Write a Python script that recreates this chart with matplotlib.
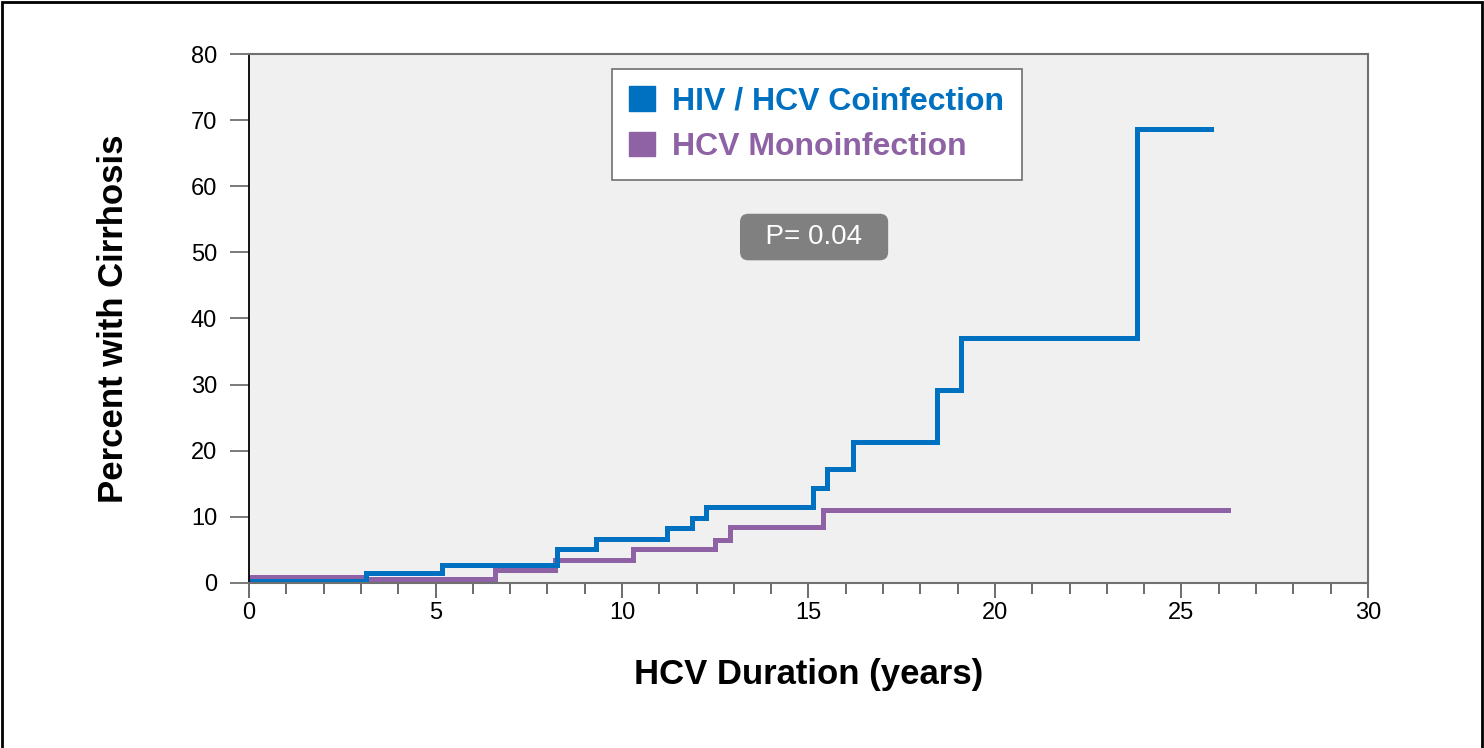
import matplotlib
matplotlib.use('Agg')
import matplotlib.pyplot as plt
from matplotlib.patches import Patch, Rectangle
from matplotlib.ticker import MultipleLocator

plt.rcParams['font.family'] = ['Liberation Sans', 'DejaVu Sans']

# Kaplan-Meier style step data (years, percent)
coinf_years = [0, 3.14, 5.17, 8.26, 9.3, 11.2, 11.87, 12.25, 15.12, 15.5, 16.2, 18.45, 19.1, 23.8, 25.8]
coinf_pct = [0.3, 1.5, 2.7, 5.1, 6.6, 8.3, 9.8, 11.5, 14.4, 17.3, 21.3, 29.2, 37.1, 68.6, 68.6]

mono_years = [0, 3.1, 6.6, 8.2, 10.3, 12.5, 12.9, 15.4, 26.25]
mono_pct = [0.9, 0.6, 2.0, 3.5, 5.1, 6.5, 8.5, 11.0, 11.0]

series_names = ['HIV / HCV Coinfection', 'HCV Monoinfection']
blue = '#0070c0'
purple = '#8e62a4'

fig = plt.figure(figsize=(14.84, 7.48), dpi=100)
ax = fig.add_axes([0.1678, 0.2206, 0.754, 0.7072])
ax.set_facecolor('#f0f0f0')

ax.step(mono_years, mono_pct, where='post', color=purple, lw=3.6, solid_joinstyle='miter')
ax.step(coinf_years, coinf_pct, where='post', color=blue, lw=3.6, solid_joinstyle='miter')

ax.set_xlim(0, 30)
ax.set_ylim(0, 80)
ax.xaxis.set_major_locator(MultipleLocator(5))
ax.xaxis.set_minor_locator(MultipleLocator(1))
ax.yaxis.set_major_locator(MultipleLocator(10))

for s in ['top', 'right', 'bottom']:
    ax.spines[s].set_color('#707070')
    ax.spines[s].set_linewidth(1.5)
ax.spines['left'].set_color('black')
ax.spines['left'].set_linewidth(1.3)

ax.tick_params(axis='x', which='major', length=11, width=1.1, color='#444444', labelsize=17, pad=3)
ax.tick_params(axis='x', which='minor', length=8, width=1.1, color='#444444')
ax.tick_params(axis='y', which='major', length=14, width=1.3, color='#707070', labelsize=17, pad=9)

ax.set_xlabel('HCV Duration (years)', fontsize=25, fontweight='bold', labelpad=24)
ax.set_ylabel('Percent with Cirrhosis', fontsize=25, fontweight='bold', labelpad=44)

handles = [Patch(facecolor=blue, edgecolor=blue), Patch(facecolor=purple, edgecolor=purple)]
leg = ax.legend(handles, series_names, loc='upper left', bbox_to_anchor=(0.324, 0.972),
                prop={'size': 23, 'weight': 'bold'}, labelcolor=[blue, purple],
                handlelength=0.8, handleheight=0.8, handletextpad=0.55,
                borderpad=0.55, labelspacing=0.48, borderaxespad=0,
                fancybox=False, framealpha=1, edgecolor='#707070')
leg.get_frame().set_linewidth(1.2)

ax.text(0.505, 0.654, '  P= 0.04  ', transform=ax.transAxes, ha='center', va='center',
        fontsize=20, color='white',
        bbox=dict(boxstyle='round,pad=0.37,rounding_size=0.3', facecolor='#808080', edgecolor='none'))

# outer frame of the slide
fig.patches.append(Rectangle((0.0015, -0.01), 0.997, 1.007, transform=fig.transFigure,
                             fill=False, edgecolor='black', lw=2))

fig.savefig('out.png', dpi=100)
